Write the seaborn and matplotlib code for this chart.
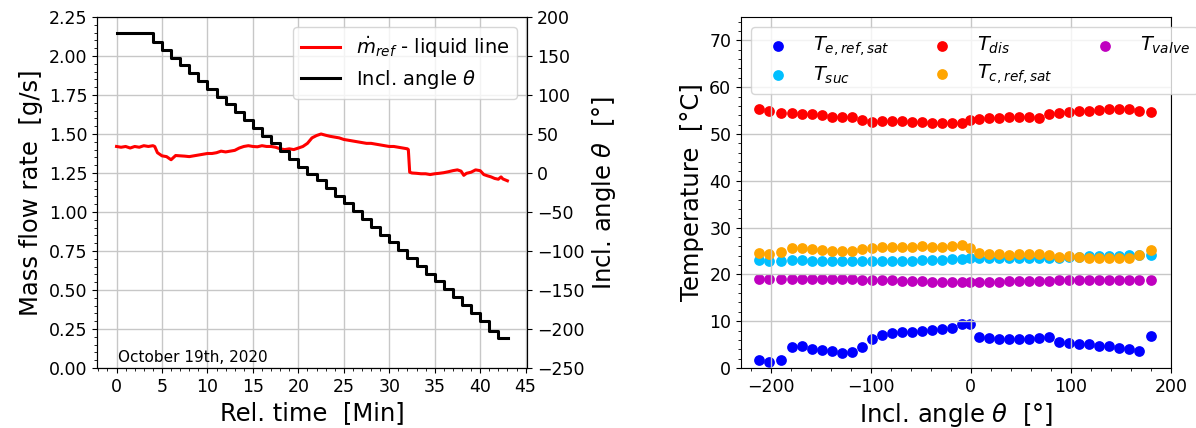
import numpy as np
import pandas as pd
import matplotlib
matplotlib.use('Agg')
import matplotlib.pyplot as plt
import seaborn as sns

# --- left plot: mass flow rate and inclination angle over time ---
time_min = [0.0, 0.5, 1.0, 1.5, 2.0, 2.5, 3.0, 3.5, 4.0, 4.2, 4.5, 5.0, 5.5, 6.0,
            6.5, 7.0, 7.5, 8.0, 8.5, 9.0, 9.5, 10.0, 10.5, 11.0, 11.5, 12.0, 12.5,
            13.0, 13.5, 14.0, 14.5, 15.0, 15.5, 16.0, 16.5, 17.0, 17.5, 18.0, 18.5,
            19.0, 19.5, 20.0, 20.5, 21.0, 21.5, 22.0, 22.5, 23.0, 23.5, 24.0, 24.5,
            25.0, 25.5, 26.0, 26.5, 27.0, 27.5, 28.0, 28.5, 29.0, 29.5, 30.0, 30.5,
            31.0, 31.5, 32.0, 32.1, 32.25, 32.5, 33.0, 33.5, 34.0, 34.5, 35.0, 35.5,
            36.0, 36.5, 37.0, 37.5, 37.9, 38.2, 38.5, 39.0, 39.5, 40.0, 40.4, 40.8,
            41.2, 41.6, 42.0, 42.3, 42.5, 43.0]
mass_flow = [1.420, 1.415, 1.420, 1.410, 1.420, 1.415, 1.425, 1.420, 1.425, 1.420,
             1.380, 1.360, 1.355, 1.335, 1.362, 1.360, 1.358, 1.355, 1.360, 1.365,
             1.370, 1.375, 1.375, 1.380, 1.390, 1.385, 1.390, 1.395, 1.410, 1.420,
             1.425, 1.420, 1.418, 1.425, 1.420, 1.420, 1.415, 1.405, 1.400, 1.405,
             1.400, 1.410, 1.420, 1.440, 1.475, 1.490, 1.500, 1.492, 1.485, 1.480,
             1.475, 1.465, 1.460, 1.455, 1.450, 1.445, 1.440, 1.440, 1.435, 1.430,
             1.425, 1.420, 1.420, 1.415, 1.410, 1.405, 1.400, 1.255, 1.250, 1.248,
             1.245, 1.245, 1.240, 1.245, 1.248, 1.252, 1.258, 1.265, 1.270, 1.262,
             1.235, 1.248, 1.255, 1.270, 1.265, 1.240, 1.232, 1.225, 1.215, 1.210,
             1.225, 1.212, 1.200]

step_time = [0, 4, 5, 6, 7, 8, 9, 10, 11, 12, 13, 14, 15, 16, 17, 18, 19, 20, 21, 22,
             23, 24, 25, 26, 27, 28, 29, 30, 31, 32, 33, 34, 35, 36, 37, 38, 39, 40,
             41, 42, 43.1]

# --- right plot: temperatures vs inclination angle ---
angle = [-212, -202, -190, -179, -169, -159, -149, -139, -129, -119, -109, -99, -89,
         -79, -69, -59, -49, -39, -29, -19, -9, -1, 8, 18, 28, 38, 48, 58, 68, 78, 88,
         98, 108, 118, 128, 138, 148, 158, 168, 180]
T_e_sat = [1.8, 1.3, 1.8, 4.5, 4.6, 4.1, 3.8, 3.6, 3.3, 3.4, 4.5, 6.1, 7.1, 7.5, 7.7,
           7.7, 7.9, 8.1, 8.3, 8.6, 9.3, 9.3, 6.6, 6.5, 6.2, 6.1, 6.1, 6.2, 6.4, 6.6,
           5.6, 5.4, 5.2, 5.1, 4.8, 4.6, 4.3, 4.0, 3.6, 6.9]
T_suc = [23.1, 22.9, 22.9, 23.0, 23.0, 22.9, 22.9, 22.9, 22.9, 22.9, 22.8, 22.8, 22.9,
         22.9, 22.9, 22.9, 23.0, 23.1, 23.1, 23.2, 23.3, 23.4, 23.4, 23.4, 23.4, 23.5,
         23.5, 23.6, 23.6, 23.6, 23.6, 23.7, 23.8, 23.9, 23.9, 23.9, 24.0, 24.1, 24.1,
         24.1]
T_dis = [55.3, 55.0, 54.5, 54.4, 54.3, 54.2, 54.0, 53.7, 53.6, 53.6, 52.9, 52.6, 52.7,
         52.7, 52.7, 52.6, 52.5, 52.4, 52.4, 52.3, 52.4, 52.9, 53.3, 53.5, 53.5, 53.6,
         53.7, 53.7, 53.5, 54.2, 54.5, 54.7, 54.9, 55.0, 55.2, 55.3, 55.4, 55.3, 55.0,
         54.8]
T_c_sat = [24.5, 24.4, 24.8, 25.6, 25.6, 25.4, 25.2, 25.1, 25.1, 25.1, 25.4, 25.6, 25.8,
           25.8, 25.9, 25.9, 26.0, 25.9, 25.9, 26.0, 26.2, 25.6, 24.5, 24.4, 24.3, 24.2,
           24.3, 24.3, 24.4, 24.1, 23.7, 23.9, 23.7, 23.6, 23.4, 23.6, 23.6, 23.6, 24.1,
           25.2]
T_valve = [19.0, 19.1, 19.1, 19.1, 19.1, 19.1, 19.1, 19.1, 19.1, 19.0, 18.9, 18.9, 18.8,
           18.7, 18.6, 18.6, 18.5, 18.4, 18.4, 18.4, 18.4, 18.4, 18.4, 18.4, 18.4, 18.5,
           18.5, 18.6, 18.6, 18.6, 18.7, 18.8, 18.8, 18.9, 18.9, 18.9, 18.8, 18.8, 18.8,
           18.8]

# angle steps in the time series go from +180 down to -212
step_angle = angle[::-1] + [angle[0]]

plt.rcParams['font.family'] = ['DejaVu Sans']
plt.rcParams['xtick.labelsize'] = 12.5
plt.rcParams['ytick.labelsize'] = 12.5

fig = plt.figure(figsize=(11.96, 4.28), dpi=100)
ax = fig.add_axes([0.0811, 0.1402, 0.3595, 0.8201])
ax_r = fig.add_axes([0.6196, 0.1402, 0.3595, 0.8201])

# left
sns.lineplot(x=time_min, y=mass_flow, ax=ax, color='red', lw=2.2,
             label=r'$\dot{m}_{ref}$ - liquid line')
if ax.get_legend():
    ax.get_legend().remove()
ax2 = ax.twinx()
sns.lineplot(x=step_time, y=step_angle, ax=ax2, color='black', lw=2.2,
             drawstyle='steps-post', label=r'Incl. angle $\theta$')
if ax2.get_legend():
    ax2.get_legend().remove()

ax.set_ylim(0, 2.25)
ax.set_yticks(np.arange(0, 2.26, 0.25))
ax.set_xticks(np.arange(0, 46, 5))
ax.set_xlim(-2.15, 45.15)
ax.minorticks_on()
ax.grid(True, which='major', color='0.78', lw=1)
ax2.set_ylim(-250, 200)
ax2.set_yticks(np.arange(-250, 201, 50))
ax.set_xlabel('Rel. time  [Min]', fontsize=17.5)
ax.set_ylabel('Mass flow rate  [g/s]', fontsize=17.5)
ax2.set_ylabel(r'Incl. angle $\theta$  [°]', fontsize=17.5)
ax.text(0.048, 0.018, 'October 19th, 2020', transform=ax.transAxes, fontsize=11)

h1, l1 = ax.get_legend_handles_labels()
h2, l2 = ax2.get_legend_handles_labels()
ax2.legend(h1 + h2, l1 + l2, loc='upper right', fontsize=14, labelspacing=0.4)

# right
series = [(T_e_sat, 'blue', r'$T_{e,ref,sat}$'),
          (T_suc, 'deepskyblue', r'$T_{suc}$'),
          (T_dis, 'red', r'$T_{dis}$'),
          (T_c_sat, 'orange', r'$T_{c,ref,sat}$'),
          (T_valve, 'm', r'$T_{valve}$')]
for vals, col, lab in series:
    sns.scatterplot(x=angle, y=vals, ax=ax_r, color=col, s=60, linewidth=0,
                    label=lab)
ax_r.set_ylim(0, 75)
ax_r.set_xlim(-229.6, 199.6)
ax_r.set_xticks([-200, -100, 0, 100, 200])
ax_r.minorticks_on()
ax_r.grid(True, which='major', color='0.78', lw=1)
ax_r.set_xlabel(r'Incl. angle $\theta$  [°]', fontsize=17.5)
ax_r.set_ylabel('Temperature  [°C]', fontsize=17.5)
ax_r.legend(loc='upper left', ncol=3, fontsize=14, labelspacing=0.3,
            columnspacing=1.7)

fig.savefig('out.png', dpi=100)
